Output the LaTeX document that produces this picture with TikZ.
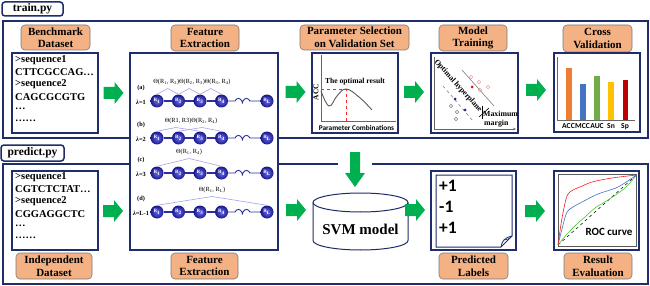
\documentclass[tikz,border=0pt]{standalone}
\usepackage{fontspec}
\setmainfont{Liberation Serif}
\newfontfamily\carl{Carlito}
\usetikzlibrary{decorations.pathmorphing,arrows.meta}
\definecolor{navy}{HTML}{1F2D6B}
\definecolor{labfill}{HTML}{F4B183}
\definecolor{labdraw}{HTML}{7A7A7A}
\definecolor{agreen}{HTML}{00B050}
\definecolor{chainc}{HTML}{2E2E9E}
\definecolor{thc}{HTML}{A4A4EC}
\definecolor{ballin}{HTML}{6A6AEE}
\definecolor{ballout}{HTML}{181888}
\definecolor{cacc}{HTML}{ED7D31}
\definecolor{cmcc}{HTML}{4472C4}
\definecolor{cauc}{HTML}{70AD47}
\definecolor{csn}{HTML}{FFC000}
\definecolor{csp}{HTML}{C00000}
\definecolor{pinkc}{HTML}{F4A0A0}
\begin{document}
\begin{tikzpicture}[x=1pt,y=-1pt,
  frame/.style={draw=navy,line width=1.6pt},
  boxline/.style={draw=navy,line width=1.3pt,fill=white},
  lab/.style={draw=labdraw,fill=labfill,rounded corners=4pt,line width=0.6pt,align=center,
    font=\fontsize{11}{12.5}\selectfont\bfseries,inner sep=0pt},
  titlebox/.style={draw=navy,line width=1.5pt,rounded corners=3pt,fill=white,inner sep=0pt,
    font=\fontsize{11.5}{13}\selectfont\bfseries},
  seqtxt/.style={anchor=west,inner sep=0pt,font=\fontsize{10.5}{12}\selectfont\bfseries},
  ball/.style={circle,inner sep=0pt,minimum size=13pt,inner color=ballin,outer color=ballout,
    text=white,font=\fontsize{5}{5}\selectfont\bfseries},
  chainline/.style={draw=chainc,line width=1.4pt},
  coilline/.style={draw=chainc,line width=0.9pt},
  thline/.style={draw=thc,line width=0.6pt},
  thlab/.style={inner sep=0pt,font=\fontsize{6.3}{7}\selectfont},
  rowlab/.style={inner sep=0pt,font=\fontsize{6.3}{7}\selectfont\bfseries},
  rarrow/.pic={\fill[agreen] (-10,-6) -- (1,-6) -- (1,-11) -- (10,0) -- (1,11) -- (1,6) -- (-10,6) -- cycle;},
  axis/.style={draw=gray!80!black,line width=0.8pt},
  plab/.style={inner sep=0pt,font=\carl\fontsize{17.5}{18}\selectfont\bfseries,anchor=west}
]
\useasboundingbox (0,0) rectangle (650,286);
\fill[white] (0,0) rectangle (650,286);

% frames
\draw[frame] (3,21) rectangle (648,138);
\draw[frame] (338,164) -- (3,164) -- (3,284) -- (648,284) -- (648,164) -- (372,164);
\node[titlebox,minimum width=61pt,minimum height=14pt] (ttrain) at (32.5,9) {train.py};
\node[titlebox,minimum width=63pt,minimum height=16pt] (tpred) at (32.5,153) {predict.py};

% labels
\node[lab,minimum width=69pt,minimum height=25pt] (lbench) at (55.5,37.5) {Benchmark\\Dataset};
\node[lab,minimum width=68pt,minimum height=26pt] (lfeat1) at (205,38) {Feature\\Extraction};
\node[lab,minimum width=109pt,minimum height=25pt] (lparam) at (354.5,37.5) {Parameter Selection\\on Validation Set};
\node[lab,minimum width=68pt,minimum height=26pt] (lmodel) at (473,38) {Model\\Training};
\node[lab,minimum width=69pt,minimum height=27pt] (lcv) at (597.5,38.5) {Cross\\Validation};
\node[lab,minimum width=76pt,minimum height=26pt] (lindep) at (54,266) {Independent\\Dataset};
\node[lab,minimum width=67pt,minimum height=26pt] (lfeat2) at (204.5,266) {Feature\\Extraction};
\node[lab,minimum width=69pt,minimum height=26pt] (lpredl) at (473.5,266) {Predicted\\Labels};
\node[lab,minimum width=68pt,minimum height=26pt] (lres) at (598,266) {Result\\Evaluation};

% sequence boxes
\draw[boxline] (12,53) rectangle (98,133);
\foreach \t/\yy [count=\i] in {{>sequence1}/60,{CTTCGCCAG…}/72.2,{>sequence2}/84.4,{CAGCGCGTG}/96.6,{…}/108.8,{……}/121}
  \node[seqtxt] (sa\i) at (15,\yy) {\t};
\draw[boxline] (12,171) rectangle (98,250);
\foreach \t/\yy [count=\i] in {{>sequence1}/177,{CGTCTCTAT…}/189.2,{>sequence2}/201.4,{CGGAGGCTC}/213.6,{…}/225.8,{……}/238}
  \node[seqtxt] (sb\i) at (15,\yy) {\t};

% feature extraction panel
\draw[boxline,line width=1.2pt] (130,53) rectangle (278,250);
\foreach \r/\y/\lt/\lam in {a/101/(a)/1,b/138/(b)/2,c/173/(c)/3,d/212/(d)/L-1}{
  \node[ball] (\r1) at (157,\y) {R\textsubscript{1}};
  \node[ball] (\r2) at (178.5,\y) {R\textsubscript{2}};
  \node[ball] (\r3) at (200,\y) {R\textsubscript{3}};
  \node[ball] (\r4) at (221.5,\y) {R\textsubscript{4}};
  \node[ball] (\r5) at (267,\y) {R\textsubscript{L}};
  \draw[chainline] (\r1) -- (\r2) -- (\r3) -- (\r4);
  \draw[coilline] (\r4) -- (235,\y)
    decorate[decoration={coil,aspect=0.55,segment length=8pt,amplitude=2.6pt}] {-- (257,\y)} -- (\r5);
  \node[rowlab] (rl\r) at (141,\y-13) {\lt};
  \node[rowlab] (lm\r) at (141,\y+1) {\textit{λ}=\lam};
}
\node[thlab] (tha) at (192,82) {Θ(R\textsubscript{1}, R\textsubscript{2})Θ(R\textsubscript{2}, R\textsubscript{3})Θ(R\textsubscript{3}, R\textsubscript{4})};
\draw[thline] (a1.north) -- (167.75,88.5) -- (a2.north) -- (189.25,88.5) -- (a3.north) -- (210.75,88.5) -- (a4.north);
\node[thlab] (thb) at (191,121) {Θ(R1, R3)Θ(R\textsubscript{2}, R\textsubscript{4})};
\draw[thline] (b1.north) -- (176,127.5) -- (b3.north);
\draw[thline] (b2.north) -- (202,127.5) -- (b4.north);
\node[thlab] (thc) at (189,152) {Θ(R\textsubscript{1}, R\textsubscript{4})};
\draw[thline] (c1.north) -- (189,158.5) -- (c4.north);
\node[thlab] (thd) at (212,190) {Θ(R\textsubscript{1}, R\textsubscript{L})};
\draw[thline] (d1.north) -- (212,196.5) -- (d5.north);

% parameter selection box
\draw[boxline] (312,53) rectangle (398,133);
\draw[axis] (321,55) -- (321,121) -- (396,121);
\draw[red!85!white,dashed,line width=0.6pt] (321,89) -- (346,89) -- (346,121);
\draw[gray!70!black,line width=0.9pt] plot[smooth,tension=0.7] coordinates {(321,91) (329,106) (337,96) (346,89) (359,97) (372,110)};
\node[inner sep=0pt,font=\fontsize{7.6}{8}\selectfont\bfseries] (topt) at (355,82) {The optimal result};
\node[inner sep=0pt,rotate=90,font=\fontsize{7.5}{8}\selectfont\bfseries] (tacc) at (316,92) {ACC};
\node[inner sep=0pt,font=\carl\fontsize{7.3}{8}\selectfont\bfseries] (tpc) at (356.5,128) {Parameter Combinations};

% model training box
\draw[boxline] (431,53) rectangle (518,133);
\draw[axis,line width=0.7pt,-{Stealth[length=3pt,width=2.5pt]}] (434,57) -- (434,129) -- (516,129);
\draw[gray,line width=0.6pt] (462,70) -- (494,106);
\draw[gray,line width=0.6pt,dashed] (443,86) -- (473,121);
\draw[black,line width=0.6pt] (479,117) -- (489,108);
\draw[black,line width=0.5pt] (482,106) -- (482,119);
\node[inner sep=0pt,rotate=-48,font=\fontsize{7.8}{8}\selectfont\bfseries] (thyp) at (458,86) {Optimal hyperplane};
\foreach \p in {(471,77),(479,82),(488,87),(480,90)} \draw[pinkc,line width=0.6pt] \p circle[radius=1.8];
\fill[red] (472,87) circle[radius=1.5];
\foreach \p in {(455,99),(465,110)} \fill[navy] \p circle[radius=1.5];
\foreach \p in {(451,106),(457,112),(456,119)} \draw[gray,line width=0.6pt] \p circle[radius=1.8];
\node[inner sep=0pt,anchor=west,font=\fontsize{7.8}{8}\selectfont\bfseries] (tmax) at (483,114) {Maximum};
\node[inner sep=0pt,anchor=west,font=\fontsize{7.8}{8}\selectfont\bfseries] (tmar) at (484,124) {margin};

% cross validation box
\draw[boxline] (554,53) rectangle (640,132);
\draw[axis] (557,57) -- (557,120) -- (635,120);
\fill[cacc] (566,68) rectangle (571.5,120);
\fill[cmcc] (580,84) rectangle (585.5,120);
\fill[cauc] (594,76) rectangle (600,120);
\fill[csn] (608,82) rectangle (614,120);
\fill[csp] (622.5,80) rectangle (628,120);
\foreach \t/\xx [count=\i] in {ACC/568.5,MCC/582.5,AUC/597,Sn/611,Sp/625}
  \node[inner sep=0pt,font=\carl\fontsize{7.6}{8}\selectfont\bfseries] (cv\i) at (\xx,126.5) {\t};

% SVM cylinder
\fill[white] (313,202.5) -- (313,240.5) arc[start angle=180,end angle=0,x radius=47.5,y radius=9.5] -- (408,202.5) -- cycle;
\draw[draw=navy,line width=1pt] (313,202.5) -- (313,240.5) arc[start angle=180,end angle=0,x radius=47.5,y radius=9.5] -- (408,202.5);
\draw[draw=navy,line width=1pt,fill=white] (360.5,202.5) ellipse[x radius=47.5,y radius=9.5];
\node[inner sep=0pt,font=\fontsize{15}{16}\selectfont\bfseries] (svm) at (360.5,229) {SVM model};

% predicted labels box
\draw[boxline,line width=1.5pt] (431,171) rectangle (516,250);
\draw[draw=navy,line width=1pt] (436,175) -- (512,175) -- (512,236) -- (501,247) -- (436,247) -- cycle;
\draw[draw=navy,line width=0.8pt] (501,247) .. controls (502,241) and (504,238) .. (512,236);
\draw[draw=navy,line width=0.6pt] (504,240) .. controls (507,240) and (509,239) .. (512,236);
\node[plab] (p1) at (439,186) {+1};
\node[plab] (p2) at (439,207) {-1};
\node[plab] (p3) at (439,228) {+1};

% ROC box
\draw[boxline,line width=1.5pt] (554,171) rectangle (639,250);
\draw[draw=gray!70!black,line width=0.8pt] (558,174.5) rectangle (636.5,246);
\draw[black,dashed,line width=0.5pt] (558,245) -- (636.5,175);
\draw[cauc!60!green,line width=0.6pt] plot[smooth] coordinates {(558,245) (568,233) (578,223) (585,217) (595,208) (608,200) (625,188) (636.5,175)};
\draw[cmcc,line width=0.6pt] plot[smooth] coordinates {(558,245) (563,225) (567,212) (573,207) (582,202) (598,194) (618,187) (636.5,175)};
\draw[red!90!white,line width=0.6pt] plot[smooth] coordinates {(558,245) (562,218) (567,196) (573,190) (580,187) (592,182) (612,178) (636.5,175)};
\node[inner sep=0pt,font=\carl\fontsize{11}{12}\selectfont\bfseries] (troc) at (609,232) {ROC curve};

% green block arrows
\pic at (113.5,93) {rarrow};
\pic at (295.5,92) {rarrow};
\pic at (414,92) {rarrow};
\pic at (536,90) {rarrow};
\pic at (113,211) {rarrow};
\pic at (296,210) {rarrow};
\pic at (415,210) {rarrow};
\pic at (535,211) {rarrow};
\fill[agreen] (350,152) -- (360,152) -- (360,173) -- (365,173) -- (355,187) -- (345,173) -- (350,173) -- cycle;
\end{tikzpicture}
\end{document}
